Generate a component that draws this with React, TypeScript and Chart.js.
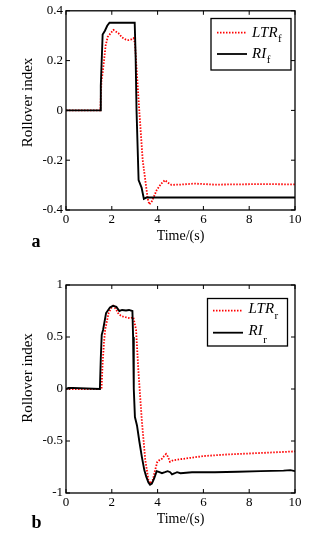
import React, { useEffect, useRef } from "react";
import { Chart, registerables } from "chart.js";
Chart.register(...registerables);

const FONT = '"Liberation Serif", "Times New Roman", serif';

// ---- axis ticks ----
const timeTicks = [0, 2, 4, 6, 8, 10];
const yTicksA = [-0.4, -0.2, 0, 0.2, 0.4];
const yTicksB = [-1, -0.5, 0, 0.5, 1];

// ---- labels ----
const xTitle = "Time/(s)";
const yTitle = "Rollover index";
const legendNames = ["LTR", "RI"];
const legendSubA = ["f", "f"];
const legendSubB = ["r", "r"];

// ---- panel a: front axle ----
const tLTRf = [0, 1.5, 1.53, 1.55, 1.6, 1.66, 1.73, 1.82, 1.95, 2.07, 2.29, 2.45, 2.6, 2.72, 2.85, 2.95, 3.01, 3.08, 3.2, 3.35, 3.49, 3.57, 3.64, 3.75, 3.96, 4.15, 4.32, 4.45, 4.6, 5.0, 5.6, 6.5, 7.5, 8.5, 10];
const vLTRf = [0, 0, 0.08, 0.12, 0.15, 0.2, 0.26, 0.295, 0.31, 0.323, 0.31, 0.293, 0.285, 0.282, 0.285, 0.29, 0.27, 0.17, 0.0, -0.2, -0.3, -0.355, -0.378, -0.365, -0.32, -0.295, -0.28, -0.29, -0.299, -0.298, -0.294, -0.298, -0.297, -0.296, -0.297];
const tRIf = [0, 1.5, 1.52, 1.6, 1.7, 1.8, 1.9, 3.0, 3.04, 3.08, 3.17, 3.3, 3.4, 3.51, 10];
const vRIf = [0, 0, 0.1, 0.305, 0.32, 0.34, 0.352, 0.352, 0.22, 0.0, -0.28, -0.31, -0.355, -0.35, -0.35];

// ---- panel b: rear axle ----
const tLTRr = [0, 1.55, 1.6, 1.66, 1.71, 1.86, 2.0, 2.08, 2.2, 2.3, 2.43, 2.6, 2.8, 2.94, 3.06, 3.16, 3.31, 3.46, 3.6, 3.7, 3.8, 3.89, 3.99, 4.1, 4.19, 4.3, 4.37, 4.45, 4.54, 4.68, 5.0, 5.5, 6.0, 7.0, 8.0, 9.0, 10];
const vLTRr = [0, 0, 0.25, 0.45, 0.57, 0.73, 0.79, 0.8, 0.76, 0.72, 0.7, 0.69, 0.68, 0.69, 0.57, 0.18, -0.3, -0.68, -0.875, -0.91, -0.87, -0.78, -0.7, -0.68, -0.67, -0.64, -0.625, -0.65, -0.7, -0.685, -0.675, -0.66, -0.645, -0.63, -0.62, -0.61, -0.6];
const tRIr = [0, 0.1, 0.3, 1.48, 1.52, 1.56, 1.62, 1.75, 1.92, 2.05, 2.2, 2.33, 2.45, 2.62, 2.75, 2.9, 2.93, 2.96, 3.01, 3.1, 3.2, 3.31, 3.42, 3.5, 3.6, 3.67, 3.75, 3.85, 3.96, 4.08, 4.19, 4.32, 4.44, 4.55, 4.63, 4.75, 4.85, 5.0, 5.5, 6.5, 7.5, 8.5, 9.5, 9.8, 10];
const vRIr = [0, 0.01, 0.01, 0.0, 0.3, 0.52, 0.57, 0.73, 0.785, 0.8, 0.79, 0.75, 0.76, 0.755, 0.76, 0.75, 0.5, 0.0, -0.27, -0.35, -0.5, -0.65, -0.78, -0.84, -0.9, -0.92, -0.91, -0.86, -0.79, -0.8, -0.81, -0.8, -0.79, -0.8, -0.82, -0.81, -0.8, -0.81, -0.8, -0.8, -0.795, -0.79, -0.785, -0.78, -0.79];

const toXY = (t: number[], v: number[]) => t.map((x, i) => ({ x, y: v[i] }));

type PanelCfg = {
  letter: string;
  canvasTop: number;
  height: number;
  area: { left: number; right: number; top: number; bottom: number };
  yTicks: number[];
  yMin: number;
  yMax: number;
  tL: number[]; vL: number[]; tR: number[]; vR: number[];
  subs: string[];
  legend: { x0: number; x1: number; y0: number; y1: number; lx0: number; lx1: number; ly: number[]; tx: number; base: number[]; subBase: number[] };
  yTitleY: number;
  xTitleY: number;
  letterBase: number;
};

const panels: PanelCfg[] = [
  {
    letter: "a",
    canvasTop: 0,
    height: 270,
    area: { left: 66, right: 295, top: 10, bottom: 210 },
    yTicks: yTicksA, yMin: -0.4, yMax: 0.4,
    tL: tLTRf, vL: vLTRf, tR: tRIf, vR: vRIf,
    subs: legendSubA,
    legend: { x0: 211, x1: 291, y0: 18.5, y1: 70, lx0: 217, lx1: 247, ly: [32.7, 54], tx: 252, base: [36.7, 57.7], subBase: [41.7, 63.3] },
    yTitleY: 102.5,
    xTitleY: 236,
    letterBase: 246.7,
  },
  {
    letter: "b",
    canvasTop: 270,
    height: 265,
    area: { left: 66, right: 295, top: 15, bottom: 223 },
    yTicks: yTicksB, yMin: -1, yMax: 1,
    tL: tLTRr, vL: vLTRr, tR: tRIr, vR: vRIr,
    subs: legendSubB,
    legend: { x0: 207.5, x1: 287.5, y0: 28.5, y1: 76, lx0: 213, lx1: 243, ly: [40.7, 62.7], tx: 248.5, base: [42.7, 65], subBase: [49.3, 72.7] },
    yTitleY: 108,
    xTitleY: 249,
    letterBase: 258.3,
  },
];

const RED = "#ff0000";

function Panel({ cfg }: { cfg: PanelCfg }) {
  const ref = useRef<HTMLCanvasElement>(null);
  useEffect(() => {
    const canvas = ref.current!;
    const A = cfg.area;
    const framePlugin = {
      id: "frame",
      afterDraw(chart: any) {
        const ctx = chart.ctx as CanvasRenderingContext2D;
        const { left, right, top, bottom } = chart.chartArea;
        const xs = chart.scales.x;
        const ys = chart.scales.y;
        ctx.save();
        ctx.strokeStyle = "#000";
        ctx.lineWidth = 1.3;
        ctx.setLineDash([]);
        ctx.strokeRect(left, top, right - left, bottom - top);
        ctx.lineWidth = 1;
        const tl = 4;
        ctx.beginPath();
        for (const t of timeTicks) {
          const px = xs.getPixelForValue(t);
          ctx.moveTo(px, bottom); ctx.lineTo(px, bottom - tl);
          ctx.moveTo(px, top); ctx.lineTo(px, top + tl);
        }
        for (const v of cfg.yTicks) {
          const py = ys.getPixelForValue(v);
          ctx.moveTo(left, py); ctx.lineTo(left + tl, py);
          ctx.moveTo(right, py); ctx.lineTo(right - tl, py);
        }
        ctx.stroke();

        // axis titles
        ctx.fillStyle = "#000";
        ctx.font = `14px ${FONT}`;
        ctx.textAlign = "center";
        ctx.textBaseline = "middle";
        ctx.fillText(xTitle, (left + right) / 2, cfg.xTitleY);
        ctx.save();
        ctx.translate(28, cfg.yTitleY);
        ctx.rotate(-Math.PI / 2);
        ctx.font = `15px ${FONT}`;
        ctx.fillText(yTitle, 0, 0);
        ctx.restore();

        // panel letter
        ctx.font = `bold 18px ${FONT}`;
        ctx.textAlign = "left";
        ctx.textBaseline = "alphabetic";
        ctx.fillText(cfg.letter, 31.5, cfg.letterBase);

        // legend
        const L = cfg.legend;
        ctx.fillStyle = "#fff";
        ctx.fillRect(L.x0, L.y0, L.x1 - L.x0, L.y1 - L.y0);
        ctx.strokeStyle = "#000";
        ctx.lineWidth = 1.3;
        ctx.strokeRect(L.x0, L.y0, L.x1 - L.x0, L.y1 - L.y0);
        ctx.lineWidth = 1.8;
        ctx.strokeStyle = RED;
        ctx.setLineDash([1.5, 1.5]);
        ctx.beginPath();
        ctx.moveTo(L.lx0, L.ly[0]); ctx.lineTo(L.lx1, L.ly[0]);
        ctx.stroke();
        ctx.setLineDash([]);
        ctx.strokeStyle = "#000";
        ctx.lineWidth = 1.8;
        ctx.beginPath();
        ctx.moveTo(L.lx0, L.ly[1]); ctx.lineTo(L.lx1, L.ly[1]);
        ctx.stroke();
        ctx.fillStyle = "#000";
        for (let i = 0; i < legendNames.length; i++) {
          ctx.font = `italic 15px ${FONT}`;
          ctx.fillText(legendNames[i], L.tx, L.base[i]);
          const w = ctx.measureText(legendNames[i]).width;
          ctx.font = `11px ${FONT}`;
          ctx.fillText(cfg.subs[i], L.tx + w + 0.5, L.subBase[i]);
        }
        ctx.restore();
      },
    };

    const tickFont = { family: FONT, size: 13 };
    const chart = new Chart(canvas, {
      type: "line",
      data: {
        datasets: [
          {
            label: legendNames[1],
            data: toXY(cfg.tR, cfg.vR),
            borderColor: "#000",
            borderWidth: 1.9,
            pointRadius: 0,
            tension: 0,
            order: 0,
          },
          {
            label: legendNames[0],
            data: toXY(cfg.tL, cfg.vL),
            borderColor: RED,
            borderWidth: 1.8,
            borderDash: [1.5, 1.5],
            pointRadius: 0,
            tension: 0,
            order: 1,
          },
        ],
      },
      options: {
        responsive: false,
        animation: false,
        devicePixelRatio: 1,
        layout: { padding: { left: 0, top: A.top, right: 326 - A.right, bottom: 0 } },
        plugins: { legend: { display: false }, tooltip: { enabled: false } },
        scales: {
          x: {
            type: "linear",
            min: 0,
            max: 10,
            afterBuildTicks: (s: any) => { s.ticks = timeTicks.map((v) => ({ value: v })); },
            afterFit: (s: any) => { s.height = cfg.height - A.bottom; },
            ticks: { font: tickFont, color: "#000", padding: 2, maxRotation: 0, autoSkip: false, callback: (v: any) => String(v) },
            grid: { display: false, drawTicks: false },
            border: { display: false },
          },
          y: {
            type: "linear",
            min: cfg.yMin,
            max: cfg.yMax,
            afterBuildTicks: (s: any) => { s.ticks = cfg.yTicks.map((v) => ({ value: v })); },
            afterFit: (s: any) => { s.width = A.left; },
            ticks: { font: tickFont, color: "#000", padding: 3, autoSkip: false, callback: (v: any) => String(v) },
            grid: { display: false, drawTicks: false },
            border: { display: false },
          },
        },
      } as any,
      plugins: [framePlugin],
    });
    return () => chart.destroy();
  }, []);
  return (
    <canvas
      ref={ref}
      width={326}
      height={cfg.height}
      style={{ position: "absolute", left: 0, top: cfg.canvasTop, width: 326, height: cfg.height }}
    />
  );
}

export default function App() {
  return (
    <div style={{ position: "absolute", left: 0, top: 0, width: 326, height: 535, background: "#fff" }}>
      {panels.map((p) => (
        <Panel key={p.letter} cfg={p} />
      ))}
    </div>
  );
}
